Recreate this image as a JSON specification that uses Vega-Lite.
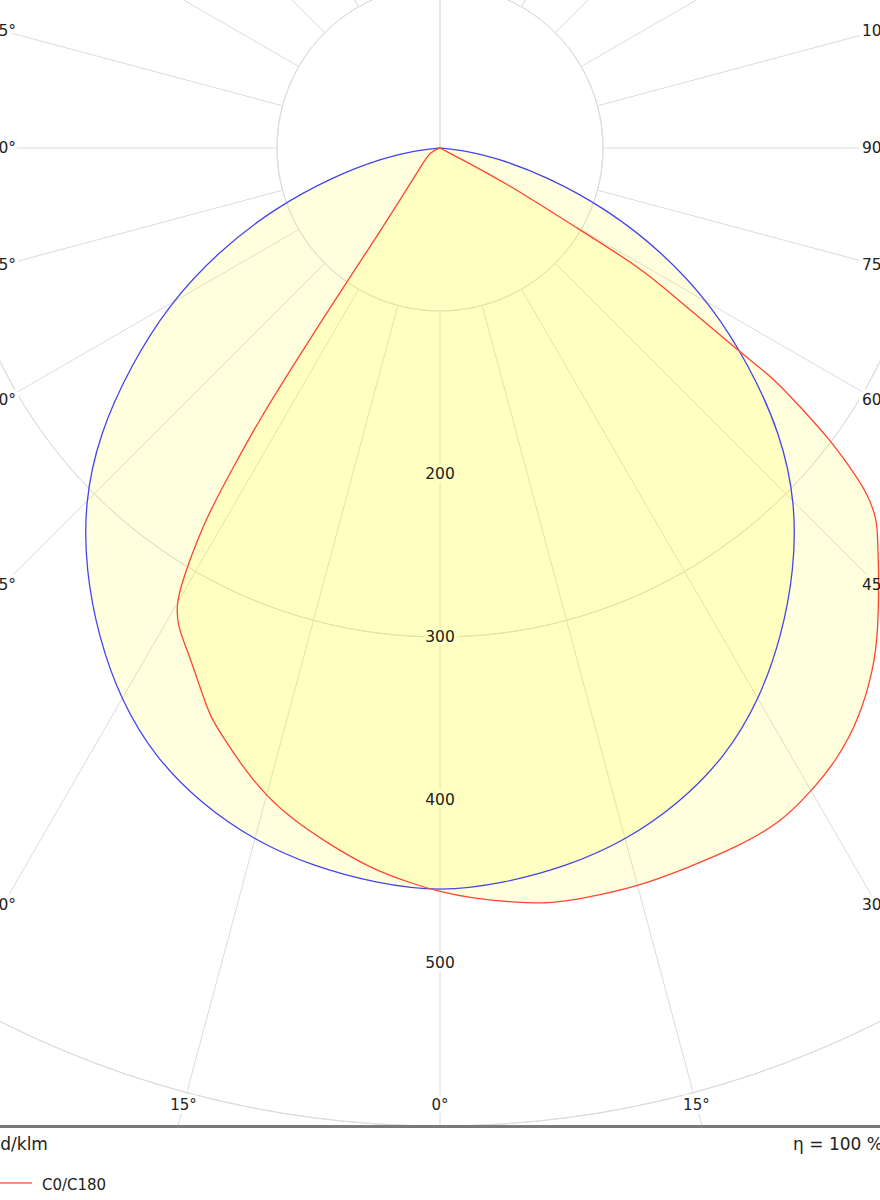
{
  "$schema": "https://vega.github.io/schema/vega-lite/v6.json",
  "width": 880,
  "height": 1200,
  "autosize": {"type": "none"},
  "padding": 0,
  "background": "white",
  "config": {"view": {"stroke": null}, "font": "DejaVu Sans"},
  "datasets": {
    "curves": [
      {"plane": "C90/C270", "g": -90, "cd": 0},
      {"plane": "C90/C270", "g": -85, "cd": 14},
      {"plane": "C90/C270", "g": -80, "cd": 36},
      {"plane": "C90/C270", "g": -75, "cd": 68},
      {"plane": "C90/C270", "g": -70, "cd": 108},
      {"plane": "C90/C270", "g": -65, "cd": 150},
      {"plane": "C90/C270", "g": -60, "cd": 192},
      {"plane": "C90/C270", "g": -55, "cd": 231},
      {"plane": "C90/C270", "g": -50, "cd": 273},
      {"plane": "C90/C270", "g": -45, "cd": 308.5},
      {"plane": "C90/C270", "g": -40, "cd": 338},
      {"plane": "C90/C270", "g": -35, "cd": 365.5},
      {"plane": "C90/C270", "g": -30, "cd": 391.5},
      {"plane": "C90/C270", "g": -25, "cd": 412.9},
      {"plane": "C90/C270", "g": -20, "cd": 428.1},
      {"plane": "C90/C270", "g": -15, "cd": 439.9},
      {"plane": "C90/C270", "g": -10, "cd": 447.6},
      {"plane": "C90/C270", "g": -5, "cd": 452.8},
      {"plane": "C90/C270", "g": 0, "cd": 456.4},
      {"plane": "C90/C270", "g": 5, "cd": 452.8},
      {"plane": "C90/C270", "g": 10, "cd": 447.6},
      {"plane": "C90/C270", "g": 15, "cd": 439.9},
      {"plane": "C90/C270", "g": 20, "cd": 428.1},
      {"plane": "C90/C270", "g": 25, "cd": 412.9},
      {"plane": "C90/C270", "g": 30, "cd": 391.5},
      {"plane": "C90/C270", "g": 35, "cd": 365.5},
      {"plane": "C90/C270", "g": 40, "cd": 338},
      {"plane": "C90/C270", "g": 45, "cd": 308.5},
      {"plane": "C90/C270", "g": 50, "cd": 273},
      {"plane": "C90/C270", "g": 55, "cd": 231},
      {"plane": "C90/C270", "g": 60, "cd": 192},
      {"plane": "C90/C270", "g": 65, "cd": 150},
      {"plane": "C90/C270", "g": 70, "cd": 108},
      {"plane": "C90/C270", "g": 75, "cd": 68},
      {"plane": "C90/C270", "g": 80, "cd": 36},
      {"plane": "C90/C270", "g": 85, "cd": 14},
      {"plane": "C90/C270", "g": 90, "cd": 0},
      {"plane": "C0/C180", "g": -90, "cd": 0},
      {"plane": "C0/C180", "g": -68, "cd": 6.6},
      {"plane": "C0/C180", "g": -48.6, "cd": 13.9},
      {"plane": "C0/C180", "g": -37.6, "cd": 40.2},
      {"plane": "C0/C180", "g": -35.5, "cd": 67.5},
      {"plane": "C0/C180", "g": -35, "cd": 92},
      {"plane": "C0/C180", "g": -34.5, "cd": 122.7},
      {"plane": "C0/C180", "g": -34, "cd": 162},
      {"plane": "C0/C180", "g": -33.6, "cd": 200},
      {"plane": "C0/C180", "g": -33, "cd": 229.4},
      {"plane": "C0/C180", "g": -32.3, "cd": 269.9},
      {"plane": "C0/C180", "g": -31.1, "cd": 300.3},
      {"plane": "C0/C180", "g": -30.2, "cd": 322.2},
      {"plane": "C0/C180", "g": -28.7, "cd": 335},
      {"plane": "C0/C180", "g": -26.7, "cd": 344.9},
      {"plane": "C0/C180", "g": -24, "cd": 362},
      {"plane": "C0/C180", "g": -22, "cd": 376.5},
      {"plane": "C0/C180", "g": -20.2, "cd": 385.1},
      {"plane": "C0/C180", "g": -17.7, "cd": 398.5},
      {"plane": "C0/C180", "g": -14.9, "cd": 412.1},
      {"plane": "C0/C180", "g": -12.3, "cd": 422},
      {"plane": "C0/C180", "g": -9.2, "cd": 432},
      {"plane": "C0/C180", "g": -5.6, "cd": 443.8},
      {"plane": "C0/C180", "g": -2.3, "cd": 451.3},
      {"plane": "C0/C180", "g": 0, "cd": 456.4},
      {"plane": "C0/C180", "g": 2.3, "cd": 460.5},
      {"plane": "C0/C180", "g": 6, "cd": 465.8},
      {"plane": "C0/C180", "g": 8.5, "cd": 468.3},
      {"plane": "C0/C180", "g": 10.6, "cd": 468.7},
      {"plane": "C0/C180", "g": 14.9, "cd": 469.2},
      {"plane": "C0/C180", "g": 18.9, "cd": 467},
      {"plane": "C0/C180", "g": 23, "cd": 466},
      {"plane": "C0/C180", "g": 26.7, "cd": 463.7},
      {"plane": "C0/C180", "g": 29.8, "cd": 456.2},
      {"plane": "C0/C180", "g": 33, "cd": 447.5},
      {"plane": "C0/C180", "g": 36.4, "cd": 433.9},
      {"plane": "C0/C180", "g": 39.7, "cd": 416.1},
      {"plane": "C0/C180", "g": 42.1, "cd": 400.9},
      {"plane": "C0/C180", "g": 45.8, "cd": 375.6},
      {"plane": "C0/C180", "g": 48.3, "cd": 359.5},
      {"plane": "C0/C180", "g": 49.6, "cd": 352.1},
      {"plane": "C0/C180", "g": 51.1, "cd": 336.8},
      {"plane": "C0/C180", "g": 52.1, "cd": 318.7},
      {"plane": "C0/C180", "g": 53.2, "cd": 298.9},
      {"plane": "C0/C180", "g": 54.3, "cd": 272.1},
      {"plane": "C0/C180", "g": 55.4, "cd": 248.3},
      {"plane": "C0/C180", "g": 55.7, "cd": 225.8},
      {"plane": "C0/C180", "g": 56.8, "cd": 190.8},
      {"plane": "C0/C180", "g": 57.5, "cd": 172.8},
      {"plane": "C0/C180", "g": 59.2, "cd": 143},
      {"plane": "C0/C180", "g": 59.6, "cd": 99.4},
      {"plane": "C0/C180", "g": 62.4, "cd": 46.4},
      {"plane": "C0/C180", "g": 90, "cd": 0}
    ],
    "circles": [{"r": 100}, {"r": 200}, {"r": 300}, {"r": 400}, {"r": 500}, {"r": 600}],
    "spokes": [
      {"a": 0}, {"a": 15}, {"a": 30}, {"a": 45}, {"a": 60}, {"a": 75},
      {"a": 90}, {"a": 105}, {"a": 120}, {"a": 135}, {"a": 150}, {"a": 165},
      {"a": 180}, {"a": 195}, {"a": 210}, {"a": 225}, {"a": 240}, {"a": 255},
      {"a": 270}, {"a": 285}, {"a": 300}, {"a": 315}, {"a": 330}, {"a": 345}
    ],
    "valueLabels": [{"r": 200, "t": "200"}, {"r": 300, "t": "300"}, {"r": 400, "t": "400"}, {"r": 500, "t": "500"}],
    "sideLabels": [
      {"a": 30, "t": "30°"}, {"a": 45, "t": "45°"}, {"a": 60, "t": "60°"},
      {"a": 75, "t": "75°"}, {"a": 90, "t": "90°"}, {"a": 105, "t": "105°"}
    ],
    "bottomLabels": [{"a": -15, "t": "15°"}, {"a": 0, "t": "0°"}, {"a": 15, "t": "15°"}],
    "footer": [{"unit": "cd/klm", "eta": "η = 100 %"}],
    "legend": [{"plane": "C0/C180"}]
  },
  "layer": [
    {
      "data": {"name": "circles"},
      "mark": {"type": "arc", "theta": 0, "theta2": 6.28318, "filled": false, "stroke": "#dcdcdc", "strokeWidth": 1},
      "encoding": {
        "x": {"datum": 0, "type": "quantitative", "scale": {"domain": [-269.939, 269.939], "nice": false, "zero": false}, "axis": null},
        "y": {"datum": 0, "type": "quantitative", "scale": {"domain": [-90.798, 645.399], "nice": false, "zero": false, "reverse": true}, "axis": null},
        "radius": {"field": "r", "type": "quantitative", "scale": {"type": "linear", "domain": [0, 600], "range": [0, 978], "zero": true}}
      }
    },
    {
      "data": {"name": "spokes"},
      "transform": [
        {"calculate": "sin(datum.a*PI/180)", "as": "s"},
        {"calculate": "cos(datum.a*PI/180)", "as": "c"},
        {"calculate": "datum.c > 0.01 ? min(1000, 600/datum.c) : 1000", "as": "r1"},
        {"calculate": "100*datum.s", "as": "x1"},
        {"calculate": "100*datum.c", "as": "y1"},
        {"calculate": "datum.r1*datum.s", "as": "x2"},
        {"calculate": "datum.r1*datum.c", "as": "y2"}
      ],
      "mark": {"type": "rule", "stroke": "#dcdcdc", "strokeWidth": 1},
      "encoding": {
        "x": {"field": "x1", "type": "quantitative", "scale": {"domain": [-269.939, 269.939], "nice": false, "zero": false}, "axis": null},
        "y": {"field": "y1", "type": "quantitative", "scale": {"domain": [-90.798, 645.399], "nice": false, "zero": false, "reverse": true}, "axis": null},
        "x2": {"field": "x2"},
        "y2": {"field": "y2"}
      }
    },
    {
      "data": {"name": "valueLabels"},
      "mark": {"type": "text", "fontSize": 15.5, "stroke": "white", "strokeWidth": 7, "strokeJoin": "round", "fill": "white", "baseline": "middle", "align": "center"},
      "encoding": {
        "x": {"datum": 0, "type": "quantitative", "scale": {"domain": [-269.939, 269.939], "nice": false, "zero": false}, "axis": null},
        "y": {"field": "r", "type": "quantitative", "scale": {"domain": [-90.798, 645.399], "nice": false, "zero": false, "reverse": true}, "axis": null},
        "text": {"field": "t"}
      }
    },
    {
      "data": {"name": "sideLabels"},
      "transform": [{"calculate": "268.1*cos(datum.a*PI/180)/sin(datum.a*PI/180)", "as": "y"}],
      "layer": [
        {
          "mark": {"type": "text", "fontSize": 15.5, "stroke": "white", "strokeWidth": 8, "strokeJoin": "round", "fill": "white", "baseline": "middle", "align": "left"},
          "encoding": {
            "x": {"datum": 258.9, "type": "quantitative", "scale": {"domain": [-269.939, 269.939], "nice": false, "zero": false}, "axis": null},
            "y": {"field": "y", "type": "quantitative", "scale": {"domain": [-90.798, 645.399], "nice": false, "zero": false, "reverse": true}, "axis": null},
            "text": {"field": "t"}
          }
        },
        {
          "mark": {"type": "text", "fontSize": 15.5, "stroke": "white", "strokeWidth": 8, "strokeJoin": "round", "fill": "white", "baseline": "middle", "align": "right"},
          "encoding": {
            "x": {"datum": -260.1, "type": "quantitative", "scale": {"domain": [-269.939, 269.939], "nice": false, "zero": false}, "axis": null},
            "y": {"field": "y", "type": "quantitative", "scale": {"domain": [-90.798, 645.399], "nice": false, "zero": false, "reverse": true}, "axis": null},
            "text": {"field": "t"}
          }
        }
      ]
    },
    {
      "data": {"name": "bottomLabels"},
      "transform": [{"calculate": "587.1*tan(datum.a*PI/180)", "as": "x"}],
      "mark": {"type": "text", "fontSize": 15, "stroke": "white", "strokeWidth": 7, "strokeJoin": "round", "fill": "white", "baseline": "middle", "align": "center"},
      "encoding": {
        "x": {"field": "x", "type": "quantitative", "scale": {"domain": [-269.939, 269.939], "nice": false, "zero": false}, "axis": null},
        "y": {"datum": 587.1, "type": "quantitative", "scale": {"domain": [-90.798, 645.399], "nice": false, "zero": false, "reverse": true}, "axis": null},
        "text": {"field": "t"}
      }
    },
    {
      "data": {"name": "curves"},
      "transform": [
        {"calculate": "datum.cd*sin(datum.g*PI/180)", "as": "x"},
        {"calculate": "datum.cd*cos(datum.g*PI/180)", "as": "y"}
      ],
      "layer": [
        {
          "mark": {"type": "line", "interpolate": "basis", "fill": "#ffff00", "fillOpacity": 0.13, "strokeOpacity": 0, "strokeWidth": 0},
          "encoding": {
            "x": {"field": "x", "type": "quantitative", "scale": {"domain": [-269.939, 269.939], "nice": false, "zero": false}, "axis": null},
            "y": {"field": "y", "type": "quantitative", "scale": {"domain": [-90.798, 645.399], "nice": false, "zero": false, "reverse": true}, "axis": null},
            "detail": {"field": "plane"},
            "order": {"field": "g", "type": "quantitative"}
          }
        },
        {
          "mark": {"type": "line", "interpolate": "basis", "strokeWidth": 1.3},
          "encoding": {
            "x": {"field": "x", "type": "quantitative", "scale": {"domain": [-269.939, 269.939], "nice": false, "zero": false}, "axis": null},
            "y": {"field": "y", "type": "quantitative", "scale": {"domain": [-90.798, 645.399], "nice": false, "zero": false, "reverse": true}, "axis": null},
            "color": {"field": "plane", "type": "nominal", "scale": {"domain": ["C0/C180", "C90/C270"], "range": ["#ff4433", "#4444ee"]}, "legend": null},
            "order": {"field": "g", "type": "quantitative"}
          }
        }
      ]
    },
    {
      "data": {"name": "valueLabels"},
      "mark": {"type": "text", "fontSize": 15.5, "fill": "#222222", "baseline": "middle", "align": "center"},
      "encoding": {
        "x": {"datum": 0, "type": "quantitative", "scale": {"domain": [-269.939, 269.939], "nice": false, "zero": false}, "axis": null},
        "y": {"field": "r", "type": "quantitative", "scale": {"domain": [-90.798, 645.399], "nice": false, "zero": false, "reverse": true}, "axis": null},
        "text": {"field": "t"}
      }
    },
    {
      "data": {"name": "sideLabels"},
      "transform": [{"calculate": "268.1*cos(datum.a*PI/180)/sin(datum.a*PI/180)", "as": "y"}],
      "layer": [
        {
          "mark": {"type": "text", "fontSize": 15.5, "fill": "#222222", "baseline": "middle", "align": "left"},
          "encoding": {
            "x": {"datum": 258.9, "type": "quantitative", "scale": {"domain": [-269.939, 269.939], "nice": false, "zero": false}, "axis": null},
            "y": {"field": "y", "type": "quantitative", "scale": {"domain": [-90.798, 645.399], "nice": false, "zero": false, "reverse": true}, "axis": null},
            "text": {"field": "t"}
          }
        },
        {
          "mark": {"type": "text", "fontSize": 15.5, "fill": "#222222", "baseline": "middle", "align": "right"},
          "encoding": {
            "x": {"datum": -260.1, "type": "quantitative", "scale": {"domain": [-269.939, 269.939], "nice": false, "zero": false}, "axis": null},
            "y": {"field": "y", "type": "quantitative", "scale": {"domain": [-90.798, 645.399], "nice": false, "zero": false, "reverse": true}, "axis": null},
            "text": {"field": "t"}
          }
        }
      ]
    },
    {
      "data": {"name": "bottomLabels"},
      "transform": [{"calculate": "587.1*tan(datum.a*PI/180)", "as": "x"}],
      "mark": {"type": "text", "fontSize": 15, "fill": "#222222", "baseline": "middle", "align": "center"},
      "encoding": {
        "x": {"field": "x", "type": "quantitative", "scale": {"domain": [-269.939, 269.939], "nice": false, "zero": false}, "axis": null},
        "y": {"datum": 587.1, "type": "quantitative", "scale": {"domain": [-90.798, 645.399], "nice": false, "zero": false, "reverse": true}, "axis": null},
        "text": {"field": "t"}
      }
    },
    {
      "data": {"name": "footer"},
      "layer": [
        {
          "mark": {"type": "rule", "stroke": "#7a7a7a", "strokeWidth": 3},
          "encoding": {
            "x": {"datum": -269.939, "type": "quantitative", "scale": {"domain": [-269.939, 269.939], "nice": false, "zero": false}, "axis": null},
            "x2": {"datum": 269.939},
            "y": {"datum": 600.3, "type": "quantitative", "scale": {"domain": [-90.798, 645.399], "nice": false, "zero": false, "reverse": true}, "axis": null}
          }
        },
        {
          "mark": {"type": "text", "fontSize": 17, "fill": "#222222", "baseline": "middle", "align": "left"},
          "encoding": {
            "x": {"datum": -275.5, "type": "quantitative", "scale": {"domain": [-269.939, 269.939], "nice": false, "zero": false}, "axis": null},
            "y": {"datum": 611.7, "type": "quantitative", "scale": {"domain": [-90.798, 645.399], "nice": false, "zero": false, "reverse": true}, "axis": null},
            "text": {"field": "unit"}
          }
        },
        {
          "mark": {"type": "text", "fontSize": 17, "fill": "#222222", "baseline": "middle", "align": "left"},
          "encoding": {
            "x": {"datum": 216.6, "type": "quantitative", "scale": {"domain": [-269.939, 269.939], "nice": false, "zero": false}, "axis": null},
            "y": {"datum": 611.7, "type": "quantitative", "scale": {"domain": [-90.798, 645.399], "nice": false, "zero": false, "reverse": true}, "axis": null},
            "text": {"field": "eta"}
          }
        }
      ]
    },
    {
      "data": {"name": "legend"},
      "layer": [
        {
          "mark": {"type": "rule", "stroke": "#ff6655", "strokeWidth": 1.5},
          "encoding": {
            "x": {"datum": -269.939, "type": "quantitative", "scale": {"domain": [-269.939, 269.939], "nice": false, "zero": false}, "axis": null},
            "x2": {"datum": -250.3},
            "y": {"datum": 635.0, "type": "quantitative", "scale": {"domain": [-90.798, 645.399], "nice": false, "zero": false, "reverse": true}, "axis": null}
          }
        },
        {
          "mark": {"type": "text", "fontSize": 15, "fill": "#222222", "baseline": "middle", "align": "left"},
          "encoding": {
            "x": {"datum": -244.2, "type": "quantitative", "scale": {"domain": [-269.939, 269.939], "nice": false, "zero": false}, "axis": null},
            "y": {"datum": 636.2, "type": "quantitative", "scale": {"domain": [-90.798, 645.399], "nice": false, "zero": false, "reverse": true}, "axis": null},
            "text": {"field": "plane"}
          }
        }
      ]
    }
  ]
}
